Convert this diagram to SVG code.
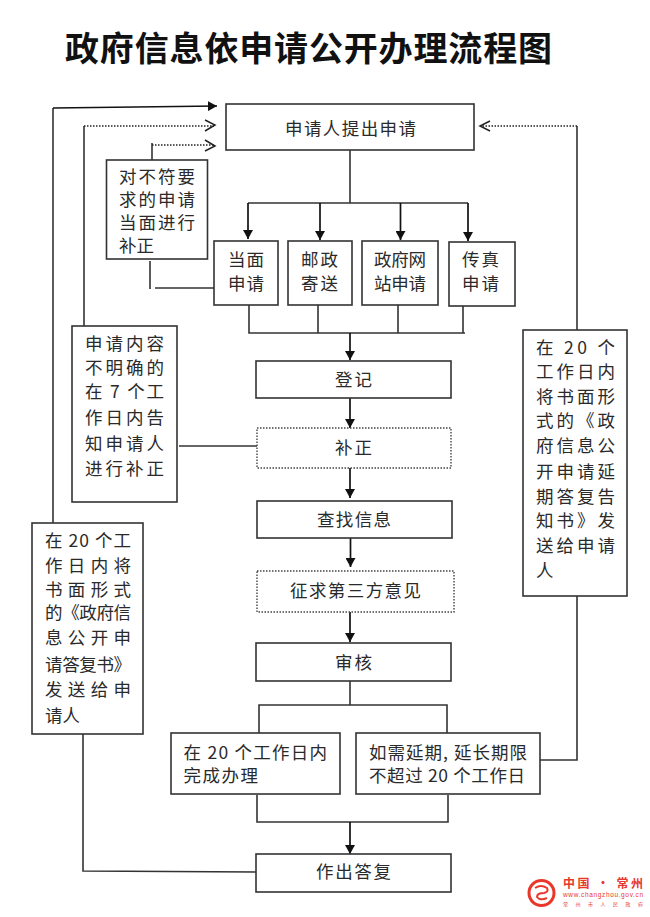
<svg xmlns="http://www.w3.org/2000/svg" width="650" height="917" viewBox="0 0 650 917">
<style>
text{font-family:"Noto Sans CJK SC","Noto Sans CJK JP",sans-serif;font-size:17.500px;fill:#2a2a2a;font-weight:400}
.t{font-size:34px;font-weight:700;fill:#111}
.b{fill:#fff;stroke:#333;stroke-width:1.6}
.d{fill:#fff;stroke:#444;stroke-width:1.4;stroke-dasharray:1.5 1.5}
.l{fill:none;stroke:#333;stroke-width:1.6}
.a{fill:none;stroke:#111;stroke-width:1.7;marker-end:url(#s)}
.o{fill:none;stroke:#222;stroke-width:1.4;stroke-dasharray:1.5 1.5}
.h{fill:none;stroke:#222;stroke-width:1.5}
</style>
<defs>
<marker id="s" markerUnits="userSpaceOnUse" markerWidth="10" markerHeight="10" refX="9" refY="5" orient="auto"><path d="M0 0L9 5L0 10z" fill="#111"/></marker>
</defs>
<text class="t" x="65" y="61" textLength="487">政府信息依申请公开办理流程图</text>
<g id="connectors">
<path class="l" d="M53 523V108"/><path class="a" d="M53 108L217 106"/>
<path class="l" d="M84 326V126"/><path class="o" d="M84 126H214"/><path class="h" d="M205 120L215 125L205 131"/>
<path class="l" d="M152 160V143"/><path class="o" d="M152 145H214"/><path class="h" d="M205 140L215 146L205 151"/>
<path class="l" d="M150 261V289M155 288H214"/>
<path class="l" d="M350 150V203M248 203H468"/>
<path class="a" d="M248 203V239"/><path class="a" d="M320 203V240"/><path class="a" d="M400.500 203V240"/><path class="a" d="M468 203V241"/>
<path class="l" d="M249 305V333H465M318 305V333M398 305V333M463 306V333"/>
<path class="a" d="M350 333V360"/><path class="a" d="M350 398V428"/><path class="a" d="M350 468V498"/><path class="a" d="M350.500 538V567"/><path class="a" d="M350 612V642"/>
<path class="l" d="M179 446H257"/>
<path class="l" d="M350 681V705M259 733V705H447V733"/>
<path class="l" d="M257 795V822H448V795"/><path class="a" d="M350 822V854"/>
<path class="l" d="M540 760H577V596M577 330V126"/><path class="o" d="M577 126H481"/><path class="h" d="M490 121L480 126L490 131"/>
<path class="l" d="M256 872L83 871V734"/>
</g>
<g id="n1"><rect class="b" x="226" y="104" width="248" height="46"/><text x="285" y="135" textLength="131">申请人提出申请</text></g>
<g id="n2"><rect class="b" x="106.500" y="160" width="101" height="99"/><text x="119" y="183" textLength="76">对不符要</text><text x="119" y="206" textLength="76">求的申请</text><text x="119" y="229" textLength="76">当面进行</text><text x="119" y="252">补正</text></g>
<g id="n3"><rect class="b" x="214" y="241" width="64" height="64"/><text x="228" y="266" textLength="36">当面</text><text x="228" y="290" textLength="36">申请</text></g>
<g id="n4"><rect class="b" x="288" y="241" width="64" height="64"/><text x="301" y="266" textLength="37">邮政</text><text x="301" y="290" textLength="37">寄送</text></g>
<g id="n5"><rect class="b" x="362" y="241" width="76" height="64"/><text x="374" y="266" textLength="52">政府网</text><text x="374" y="290" textLength="52">站申请</text></g>
<g id="n6"><rect class="b" x="449" y="242" width="66" height="64"/><text x="462" y="266" textLength="37">传真</text><text x="462" y="290" textLength="37">申请</text></g>
<g id="n7"><rect class="b" x="72" y="326" width="105" height="176"/><text x="85" y="350" textLength="79">申请内容</text><text x="85" y="374" textLength="79">不明确的</text><text x="85" y="398" textLength="79">在 7 个工</text><text x="85" y="424" textLength="79">作日内告</text><text x="85" y="450" textLength="79">知申请人</text><text x="85" y="475" textLength="79">进行补正</text></g>
<g id="n8"><rect class="b" x="523" y="330" width="104" height="266"/><text x="536" y="354" textLength="79">在 20 个</text><text x="536" y="378" textLength="79">工作日内</text><text x="536" y="403" textLength="79">将书面形</text><text x="536" y="427" textLength="79">式的《政</text><text x="536" y="452" textLength="79">府信息公</text><text x="536" y="478" textLength="79">开申请延</text><text x="536" y="503" textLength="79">期答复告</text><text x="536" y="527" textLength="79">知书》发</text><text x="536" y="552" textLength="79">送给申请</text><text x="536" y="577">人</text></g>
<g id="n9"><rect class="b" x="32" y="523" width="111" height="211"/><text x="45" y="547" textLength="86">在 20 个工</text><text x="45" y="572" textLength="86">作日内将</text><text x="45" y="596" textLength="86">书面形式</text><text x="45" y="619" textLength="86">的《政府信</text><text x="45" y="644" textLength="86">息公开申</text><text x="45" y="671" textLength="86">请答复书》</text><text x="45" y="696" textLength="86">发送给申</text><text x="45" y="722">请人</text></g>
<g id="n10"><rect class="b" x="256" y="361" width="195" height="37"/><text x="335" y="386" textLength="37">登记</text></g>
<g id="n11"><rect class="d" x="257" y="428" width="194" height="40"/><text x="335" y="454" textLength="37">补正</text></g>
<g id="n12"><rect class="b" x="257" y="501" width="195" height="37"/><text x="317" y="526" textLength="74">查找信息</text></g>
<g id="n13"><rect class="d" x="257" y="571" width="197" height="41"/><text x="290" y="597" textLength="131">征求第三方意见</text></g>
<g id="n14"><rect class="b" x="256" y="643" width="195" height="38"/><text x="335" y="669" textLength="37">审核</text></g>
<g id="n15"><rect class="b" x="171" y="733" width="169" height="61"/><text x="183.500" y="759" textLength="143.500">在 20 个工作日内</text><text x="183.500" y="782" textLength="74.500">完成办理</text></g>
<g id="n16"><rect class="b" x="356" y="733" width="184" height="61"/><text x="369" y="759" textLength="158">如需延期, 延长期限</text><text x="369" y="782" textLength="156">不超过 20 个工作日</text></g>
<g id="n17"><rect class="b" x="256" y="854" width="195" height="38"/><text x="316" y="878" textLength="75">作出答复</text></g>
<g id="logo">
<circle cx="541.500" cy="893" r="12.500" fill="#fff" stroke="#e8382c" stroke-width="3"/>
<path d="M535 888Q541 884 547 888Q549 892 544 893Q537 893 537 897Q540 901 547 898" fill="none" stroke="#e8382c" stroke-width="2"/>
<text x="563" y="888" style="font-size:12px;fill:#e8382c;font-weight:700" textLength="80">中国 · 常州</text>
<text x="563" y="897" style="font-size:6.500px;fill:#e8382c;font-family:'Liberation Sans',sans-serif" textLength="80">www.changzhou.gov.cn</text>
<text x="563" y="906" style="font-size:5px;fill:#e8382c" textLength="80">常州市人民政府</text>
</g>
</svg>
